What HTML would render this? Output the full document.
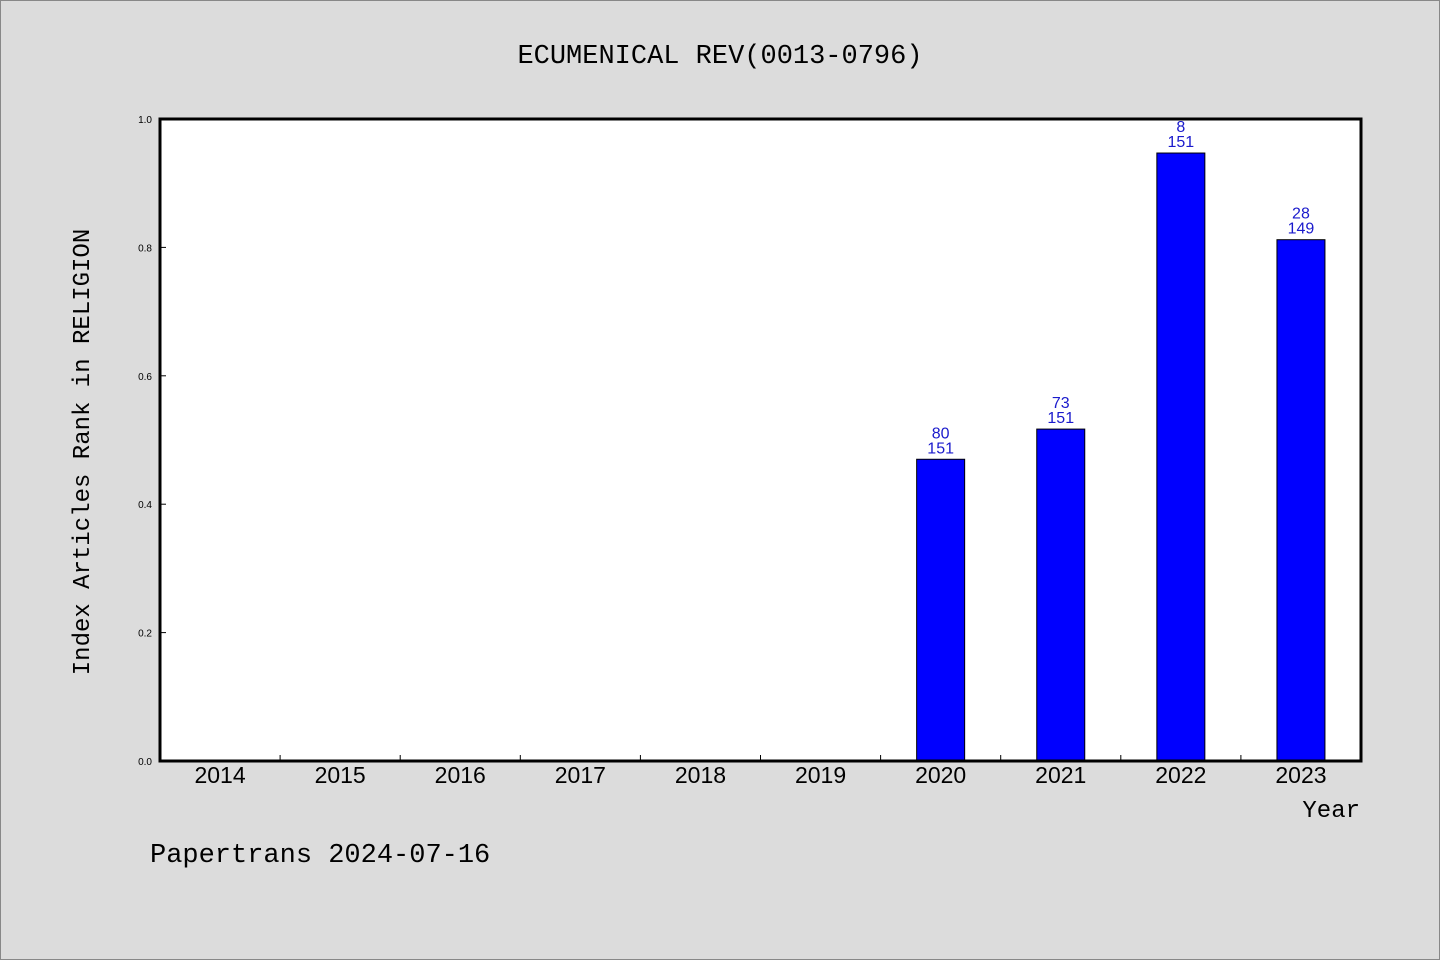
<!DOCTYPE html>
<html><head><meta charset="utf-8"><style>
body{margin:0;background:#dcdcdc;}
svg{display:block}
</style></head><body>
<svg width="1440" height="960" xmlns="http://www.w3.org/2000/svg" id="chart">
<rect x="0.5" y="0.5" width="1439" height="959" fill="#dcdcdc" stroke="#888"/>
<text x="720" y="63" text-anchor="middle" font-family="Liberation Mono, monospace" font-size="27" fill="#000">ECUMENICAL REV(0013-0796)</text>
<rect x="160" y="119" width="1201" height="642" fill="#fff"/>
<g id="marks"></g>
<rect x="160" y="119" width="1201" height="642" fill="none" stroke="#000" stroke-width="3"/>
<text transform="translate(89,452) rotate(-90)" text-anchor="middle" font-family="Liberation Mono, monospace" font-size="24" fill="#000">Index Articles Rank in RELIGION</text>
<text x="1360" y="817" text-anchor="end" font-family="Liberation Mono, monospace" font-size="24" fill="#000">Year</text>
<text x="150" y="862" font-family="Liberation Mono, monospace" font-size="27" fill="#000">Papertrans 2024-07-16</text>
</svg>
<script>
const years = ["2014","2015","2016","2017","2018","2019","2020","2021","2022","2023"];
const values = [null,null,null,null,null,null,0.470,0.517,0.947,0.812];
const ranks = [null,null,null,null,null,null,"80","73","8","28"];
const totals = [null,null,null,null,null,null,"151","151","151","149"];
const yTicks = [0,0.2,0.4,0.6,0.8,1.0];
const yTickLabels = ["0.0","0.2","0.4","0.6","0.8","1.0"];
const NS="http://www.w3.org/2000/svg";
const L=160,R=1361,T=119,B=761;
const band=(R-L)/years.length;
const xc=i=>L+band*(i+0.5);
const y=v=>B-(B-T)*v;
const g=document.getElementById('marks');
function mk(t,a){const e=document.createElementNS(NS,t);for(const k in a)e.setAttribute(k,a[k]);g.appendChild(e);return e;}
yTicks.forEach((v,i)=>{
  const t=mk('line',{x1:L,x2:L+6,y1:y(v),y2:y(v),stroke:'#000','stroke-width':1});
  
  
  const tx=mk('text',{x:152,y:y(v)+4,'text-anchor':'end','font-family':'Liberation Sans, sans-serif','font-size':10,fill:'#000'});
  tx.textContent=yTickLabels[i];
  
  
});
years.forEach((yr,i)=>{
  if(i>0){const t=mk('line',{x1:L+band*i,x2:L+band*i,y1:B-6,y2:B,stroke:'#000','stroke-width':1});
  
  }
  const tx=mk('text',{x:xc(i),y:783,'text-anchor':'middle','font-family':'Liberation Sans, sans-serif','font-size':23,fill:'#000'});
  tx.textContent=yr;
  
  
  if(values[i]!=null){
    const b=mk('rect',{x:xc(i)-24,y:y(values[i]),width:48,height:B-y(values[i]),fill:'#0000ff',stroke:'#000','stroke-width':1});
    
    
    const t1=mk('text',{x:xc(i),y:y(values[i])-21,'text-anchor':'middle','font-family':'Liberation Sans, sans-serif','font-size':16,fill:'#1a1acc'});
    t1.textContent=ranks[i];
    
    
    const t2=mk('text',{x:xc(i),y:y(values[i])-6,'text-anchor':'middle','font-family':'Liberation Sans, sans-serif','font-size':16,fill:'#1a1acc'});
    t2.textContent=totals[i];
    
    
  }
});
</script>
</body></html>
